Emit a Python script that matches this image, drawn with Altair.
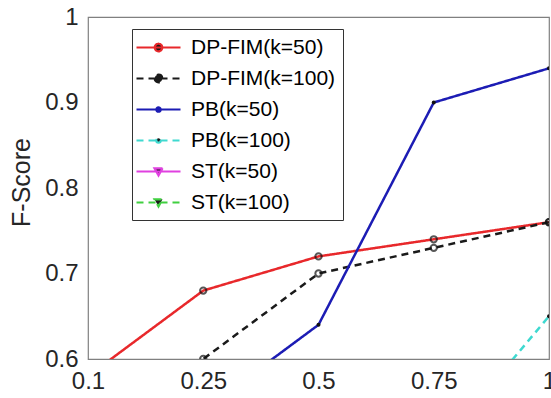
import altair as alt
import pandas as pd

x_labels = ["0.1", "0.25", "0.5", "0.75", "1"]
series = ["DP-FIM(k=50)", "DP-FIM(k=100)", "PB(k=50)", "PB(k=100)", "ST(k=50)", "ST(k=100)"]
dp_fim_50 = [0.58, 0.68, 0.72, 0.74, 0.76]
dp_fim_100 = [0.50, 0.60, 0.70, 0.73, 0.76]
pb_50 = [0.45, 0.54, 0.64, 0.90, 0.94]
pb_100 = [0.30, 0.36, 0.42, 0.49, 0.65]
st_50 = [0.20, 0.26, 0.31, 0.36, 0.40]
st_100 = [0.15, 0.20, 0.24, 0.28, 0.33]
values = [dp_fim_50, dp_fim_100, pb_50, pb_100, st_50, st_100]

colors = ["#e8282b", "#1a1a1a", "#1c1cb4", "#3fd9d0", "#e040e0", "#40d040"]
dashes = [[1, 0], [7, 5], [1, 0], [7, 5], [1, 0], [7, 5]]
line_w = 2.5

rows = []
for s, vals in zip(series, values):
    for xl, v in zip(x_labels, vals):
        rows.append({"x": xl, "series": s, "y": v})
df = pd.DataFrame(rows)

circ = "M-2.2,0H2.2M-0.38,0A0.38,0.38,0,1,0,0.38,0A0.38,0.38,0,1,0,-0.38,0"
dot = "M-2.2,0H2.2M-0.22,0A0.22,0.22,0,1,0,0.22,0A0.22,0.22,0,1,0,-0.22,0"
tri = "M-2.2,0H2.2M-0.4,-0.32L0.4,-0.32L0,0.4Z"
legend_shapes = [circ, circ, dot, dot, tri, tri]

x_enc = alt.X("x:O", sort=x_labels,
              scale=alt.Scale(type="point", padding=0),
              axis=alt.Axis(title=None, labelAngle=0, labelFontSize=24, labelPadding=10,
                            labelBaseline="top", ticks=False, domain=False,
                            labelColor="#262626", labelFont="Liberation Sans"))
y_enc = alt.Y("y:Q", scale=alt.Scale(domain=[0.6, 1.0], nice=False, zero=False),
              axis=alt.Axis(title="F-Score", values=[0.6, 0.7, 0.8, 0.9, 1.0],
                            labelExpr="datum.value == 1 ? '1' : format(datum.value, '.1f')",
                            labelFontSize=24, labelPadding=10, ticks=False, domain=False,
                            grid=False, labelColor="#262626", labelFont="Liberation Sans",
                            titleFontSize=25, titleFontWeight="normal", titleColor="#262626",
                            titleFont="Liberation Sans", titleX=-67, titleY=165,
                            titleAngle=270, titleAlign="center", titleBaseline="middle"))

color_enc = alt.Color("series:N", sort=series,
                      scale=alt.Scale(domain=series, range=colors),
                      legend=alt.Legend(title=None, orient="none", legendX=44, legendY=12,
                                        labelFontSize=21, labelFont="Liberation Sans",
                                        labelColor="#000000", symbolSize=400,
                                        symbolStrokeWidth=2.2, symbolOpacity=1,
                                        symbolFillColor="#1a1a1a",
                                        symbolOffset=8, labelOffset=21, rowPadding=9,
                                        padding=7, strokeColor="#333333", fillColor="white",
                                        labelLimit=300))
dash_enc = alt.StrokeDash("series:N", sort=series,
                          scale=alt.Scale(domain=series, range=dashes))
shape_enc = alt.Shape("series:N", sort=series,
                      scale=alt.Scale(domain=series, range=legend_shapes))

lines = alt.Chart(df).mark_line(clip=True, strokeWidth=line_w).encode(
    x=x_enc, y=y_enc, color=color_enc, strokeDash=dash_enc
)

legend_driver = alt.Chart(df).mark_point(clip=True, opacity=0, filled=False,
                                         fill="#1a1a1a").encode(
    x=x_enc, y=y_enc, color=color_enc, strokeDash=dash_enc, shape=shape_enc
)

circles = alt.Chart(df).transform_filter(
    alt.FieldOneOfPredicate(field="series", oneOf=series[0:2])
).mark_point(clip=True, shape="circle", size=40, filled=False, color="#111111",
             strokeWidth=2).encode(x=x_enc, y=y_enc)

dots = alt.Chart(df).transform_filter(
    alt.FieldOneOfPredicate(field="series", oneOf=series[2:4])
).mark_point(clip=True, shape="circle", size=16, filled=True, color="#111111",
             opacity=1).encode(x=x_enc, y=y_enc)

tris = alt.Chart(df).transform_filter(
    alt.FieldOneOfPredicate(field="series", oneOf=series[4:6])
).mark_point(clip=True, shape="triangle-down", size=40, filled=False, color="#111111",
             strokeWidth=2).encode(x=x_enc, y=y_enc)

chart = alt.layer(lines, legend_driver, circles, dots, tris).properties(
    width=461, height=342,
    autosize=alt.AutoSizeParams(type="none"),
    padding={"left": 88, "top": 17, "right": 2, "bottom": 39},
    background="white",
).configure_view(stroke="#808080", strokeWidth=1.2)

chart.save("out.html", embed_options={"renderer": "svg", "actions": False})
